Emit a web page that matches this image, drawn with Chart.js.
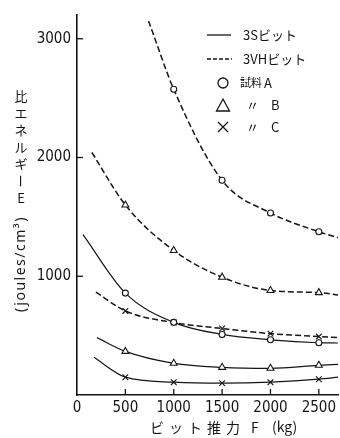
<!DOCTYPE html>
<html>
<head>
<meta charset="utf-8">
<script src="https://cdn.jsdelivr.net/npm/chart.js@4.4.1/dist/chart.umd.min.js"></script>
<style>
  body { margin: 0; background: #fff; }
  #wrap { width: 340px; height: 438px; position: relative; }
</style>
</head>
<body>
<div id="wrap"><canvas id="energyChart"></canvas></div>
<script>
// bit thrust F (kg) / specific energy E (joules/cm3)
// first and last entries are only where the drawn curve starts and ends
const xTicks = [0, 500, 1000, 1500, 2000, 2500];
const yTicks = [1000, 2000, 3000];

const s3A_x = [62, 500, 1000, 1500, 2000, 2500, 2700];
const s3A_y = [1350, 858, 612, 510, 465, 440, 438];
const s3B_x = [206, 500, 1000, 1500, 2000, 2500, 2700];
const s3B_y = [483, 367, 267, 233, 225, 250, 258];
const s3C_x = [175, 500, 1000, 1500, 2000, 2500, 2700];
const s3C_y = [317, 150, 108, 100, 108, 133, 150];

const vhA_x = [740, 1000, 1500, 2000, 2500, 2700];
const vhA_y = [3150, 2575, 1808, 1533, 1375, 1325];
const vhB_x = [154, 500, 1000, 1500, 2000, 2500, 2700];
const vhB_y = [2042, 1600, 1217, 992, 880, 862, 842];
const vhC_x = [195, 500, 1000, 1500, 2000, 2500, 2700];
const vhC_y = [867, 708, 610, 560, 517, 492, 483];

const ink = "#151515";
const numFont = "'Liberation Sans Narrow', 'DejaVu Sans Condensed', sans-serif";
const jpFont = "'Noto Sans CJK JP', sans-serif";

function pairs(xs, ys) {
  return xs.map(function(x, i) { return { x: x, y: ys[i] }; });
}

// no marker on the curve ends
function markerRadius(xs, r) {
  return xs.map(function(x, i) { return (i === 0 || i === xs.length - 1) ? 0 : r; });
}

function curve(label, xs, ys, dashed, style, r) {
  return {
    label: label,
    data: pairs(xs, ys),
    borderColor: ink,
    borderWidth: dashed ? 1.5 : 1.2,
    borderDash: dashed ? [6, 3] : [],
    cubicInterpolationMode: "monotone",
    pointStyle: style,
    pointRadius: markerRadius(xs, r),
    pointBorderColor: ink,
    pointBackgroundColor: "#fff",
    pointBorderWidth: 1.1
  };
}

const innerTicks = {
  id: "innerTicks",
  afterDatasetsDraw(chart) {
    const ctx = chart.ctx;
    const x = chart.scales.x, y = chart.scales.y;
    ctx.save();
    ctx.strokeStyle = ink;
    ctx.lineWidth = 1.3;
    x.ticks.forEach(function(t) {
      if (t.value === 0) return;
      const px = x.getPixelForValue(t.value);
      ctx.beginPath(); ctx.moveTo(px, x.top); ctx.lineTo(px, x.top - 6); ctx.stroke();
    });
    y.ticks.forEach(function(t) {
      const py = y.getPixelForValue(t.value);
      ctx.beginPath(); ctx.moveTo(y.right, py); ctx.lineTo(y.right + 6, py); ctx.stroke();
    });
    ctx.restore();
  }
};

const axisTitles = {
  id: "axisTitles",
  afterDraw(chart) {
    const ctx = chart.ctx;
    ctx.save();
    ctx.fillStyle = ink;
    ctx.textAlign = "center";
    ctx.textBaseline = "middle";

    // vertical japanese title, one char per line
    ctx.font = "13px " + jpFont;
    const chars = ["比", "エ", "ネ", "ル", "ギ", "ー", "E"];
    chars.forEach(function(c, i) {
      const cy = 96 + i * 17;
      if (c === "ー") {
        ctx.save(); ctx.translate(21, cy); ctx.rotate(Math.PI / 2);
        ctx.fillText(c, 0, 0); ctx.restore();
      } else {
        ctx.fillText(c, 21, cy);
      }
    });
    ctx.save();
    ctx.translate(21, 264);
    ctx.rotate(-Math.PI / 2);
    ctx.font = "14px 'Noto Sans', sans-serif";
    ctx.letterSpacing = "1.5px";
    ctx.fillText("(joules/cm³)", 0, 0);
    ctx.restore();

    // x title, japanese part spaced out
    ctx.textAlign = "left";
    ctx.font = "14px " + jpFont;
    ctx.letterSpacing = "5px";
    ctx.fillText("ビット推力", 150, 428);
    ctx.letterSpacing = "0px";
    ctx.fillText("F", 251, 428);
    ctx.fillText("(kg)", 272, 427);
    ctx.restore();
  }
};

const legendBox = {
  id: "legendBox",
  afterDraw(chart) {
    const ctx = chart.ctx;
    ctx.save();
    ctx.strokeStyle = ink;
    ctx.fillStyle = ink;
    ctx.lineWidth = 1.3;
    ctx.font = "13px " + jpFont;
    ctx.textBaseline = "middle";

    ctx.beginPath(); ctx.moveTo(207, 35); ctx.lineTo(231, 35); ctx.stroke();
    ctx.fillText("3Sビット", 243, 35);

    ctx.setLineDash([4, 2]);
    ctx.beginPath(); ctx.moveTo(207, 59); ctx.lineTo(232, 59); ctx.stroke();
    ctx.setLineDash([]);
    ctx.fillText("3VHビット", 243, 59);

    ctx.beginPath(); ctx.arc(223, 83, 5, 0, Math.PI * 2); ctx.stroke();
    ctx.font = "11px " + jpFont;
    ctx.fillText("試料", 240, 83);
    ctx.font = "13px " + jpFont;
    ctx.fillText("A", 264, 83);

    ctx.beginPath(); ctx.moveTo(223, 99); ctx.lineTo(229.5, 111); ctx.lineTo(216.5, 111); ctx.closePath(); ctx.stroke();
    ctx.fillText("〃", 246, 105);
    ctx.fillText("B", 271, 105);

    ctx.beginPath();
    ctx.moveTo(218, 122); ctx.lineTo(228, 132);
    ctx.moveTo(228, 122); ctx.lineTo(218, 132);
    ctx.stroke();
    ctx.fillText("〃", 246, 127);
    ctx.fillText("C", 271, 127);
    ctx.restore();
  }
};

function plainNumber(value) {
  return String(value);
}

function drawEnergyChart() {
  const ctx = document.getElementById("energyChart").getContext("2d");
  new Chart(ctx, {
    type: "line",
    data: {
      datasets: [
        curve("3S A", s3A_x, s3A_y, false, "circle", 3),
        curve("3S B", s3B_x, s3B_y, false, "triangle", 4),
        curve("3S C", s3C_x, s3C_y, false, "crossRot", 4),
        curve("3VH A", vhA_x, vhA_y, true, "circle", 3),
        curve("3VH B", vhB_x, vhB_y, true, "triangle", 4),
        curve("3VH C", vhC_x, vhC_y, true, "crossRot", 4)
      ]
    },
    options: {
      responsive: true,
      maintainAspectRatio: false,
      animation: false,
      devicePixelRatio: 1,
      layout: { padding: { top: 11, right: 0, left: 0, bottom: 0 } },
      plugins: { legend: { display: false }, tooltip: { enabled: false } },
      scales: {
        x: {
          type: "linear",
          min: 0,
          max: 2700,
          afterBuildTicks: function(scale) { scale.ticks = xTicks.map(function(v) { return { value: v }; }); },
          afterFit: function(scale) { scale.height = 43; },
          grid: { display: false, drawTicks: false },
          border: { display: true, color: ink, width: 1.6 },
          ticks: { color: ink, padding: 4, maxRotation: 0, callback: plainNumber, font: { family: numFont, size: 15 } }
        },
        y: {
          type: "linear",
          min: 0,
          max: 3200,
          afterBuildTicks: function(scale) { scale.ticks = yTicks.map(function(v) { return { value: v }; }); },
          afterFit: function(scale) { scale.width = 77; },
          grid: { display: false, drawTicks: false },
          border: { display: true, color: ink, width: 1.6 },
          ticks: { color: ink, padding: 6, callback: plainNumber, font: { family: numFont, size: 15 } }
        }
      }
    },
    plugins: [innerTicks, axisTitles, legendBox]
  });
}

drawEnergyChart();
</script>
</body>
</html>
